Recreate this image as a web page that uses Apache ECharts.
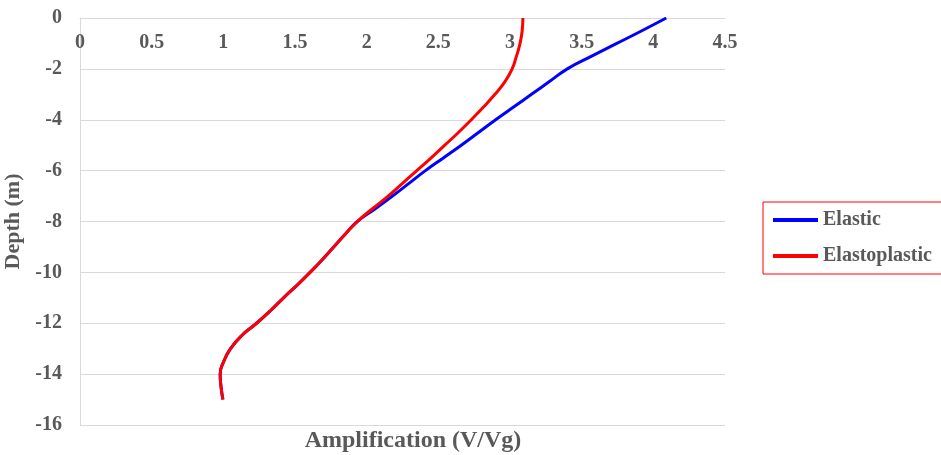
<!DOCTYPE html>
<html><head><meta charset="utf-8">
<script src="https://cdn.jsdelivr.net/npm/echarts@6/dist/echarts.min.js"></script>
<style>html,body{margin:0;padding:0;background:#fff}#c{width:941px;height:455px}</style>
</head><body><div id="c"></div>
<script>
const depths = [0,-0.5,-1,-1.5,-2,-2.5,-3,-3.5,-4,-4.5,-5,-5.5,-6,-6.5,-7,-7.5,-8,-8.5,-9,-9.5,-10,-10.5,-11,-11.5,-12,-12.5,-13,-13.5,-14,-14.5,-15];
const elastic = [4.09,3.92,3.745,3.57,3.40,3.275,3.15,3.025,2.90,2.78,2.66,2.535,2.41,2.295,2.18,2.06,1.935,1.85,1.77,1.69,1.605,1.515,1.42,1.33,1.232,1.125,1.05,1.003,0.978,0.984,0.997];
const elastoplastic = [3.09,3.085,3.07,3.045,3.015,2.965,2.895,2.815,2.73,2.64,2.545,2.45,2.35,2.25,2.15,2.04,1.935,1.85,1.77,1.69,1.605,1.515,1.42,1.33,1.232,1.125,1.05,1.003,0.978,0.984,0.997];
const seriesNames = ['Elastic','Elastoplastic'];
const xTitle = 'Amplification (V/Vg)';
const yTitle = 'Depth (m)';

const font = "'Liberation Serif','Times New Roman',serif";
const grey = '#595959';
const chart = echarts.init(document.getElementById('c'));
chart.setOption({
  animation:false,
  grid:{left:80,right:216,top:18,bottom:30,containLabel:false,outerBoundsMode:'none'},
  xAxis:{type:'value',position:'top',min:0,max:4.5,interval:0.5,
    axisLine:{show:true,lineStyle:{color:'#d9d9d9'}},axisTick:{show:false},
    splitLine:{show:false},
    axisLabel:{inside:true,margin:15,color:grey,fontFamily:font,fontWeight:'bold',fontSize:20}},
  yAxis:{type:'value',min:-16,max:0,interval:2,
    name:yTitle,nameLocation:'middle',nameRotate:90,nameGap:47,
    nameTextStyle:{color:grey,fontFamily:font,fontWeight:'bold',fontSize:22},
    axisLine:{show:true,lineStyle:{color:'#d9d9d9'}},axisTick:{show:false},
    splitLine:{show:true,lineStyle:{color:'#d9d9d9',width:1}},
    axisLabel:{margin:18,color:grey,fontFamily:font,fontWeight:'bold',fontSize:20}},
  legend:{orient:'vertical',left:763,top:202,borderColor:'#ff0000',borderWidth:1,
    padding:[8,14,8,10],itemGap:16,icon:'rect',itemWidth:45,itemHeight:4,
    textStyle:{color:grey,fontFamily:font,fontWeight:'bold',fontSize:20},
    data:seriesNames},
  graphic:[{type:'text',x:413,y:441,style:{text:xTitle,textAlign:'center',textVerticalAlign:'middle',
    fill:grey,font:"bold 24px 'Liberation Serif','Times New Roman',serif"}}],
  series:[
    {name:seriesNames[0],type:'line',smooth:true,showSymbol:false,symbol:'none',
     lineStyle:{color:'#0000ff',width:3},itemStyle:{color:'#0000ff'},
     data:depths.map((d,i)=>[elastic[i],d])},
    {name:seriesNames[1],type:'line',smooth:true,showSymbol:false,symbol:'none',
     lineStyle:{color:'#ff0000',width:3},itemStyle:{color:'#ff0000'},
     data:depths.map((d,i)=>[elastoplastic[i],d])}
  ]
});
</script></body></html>
